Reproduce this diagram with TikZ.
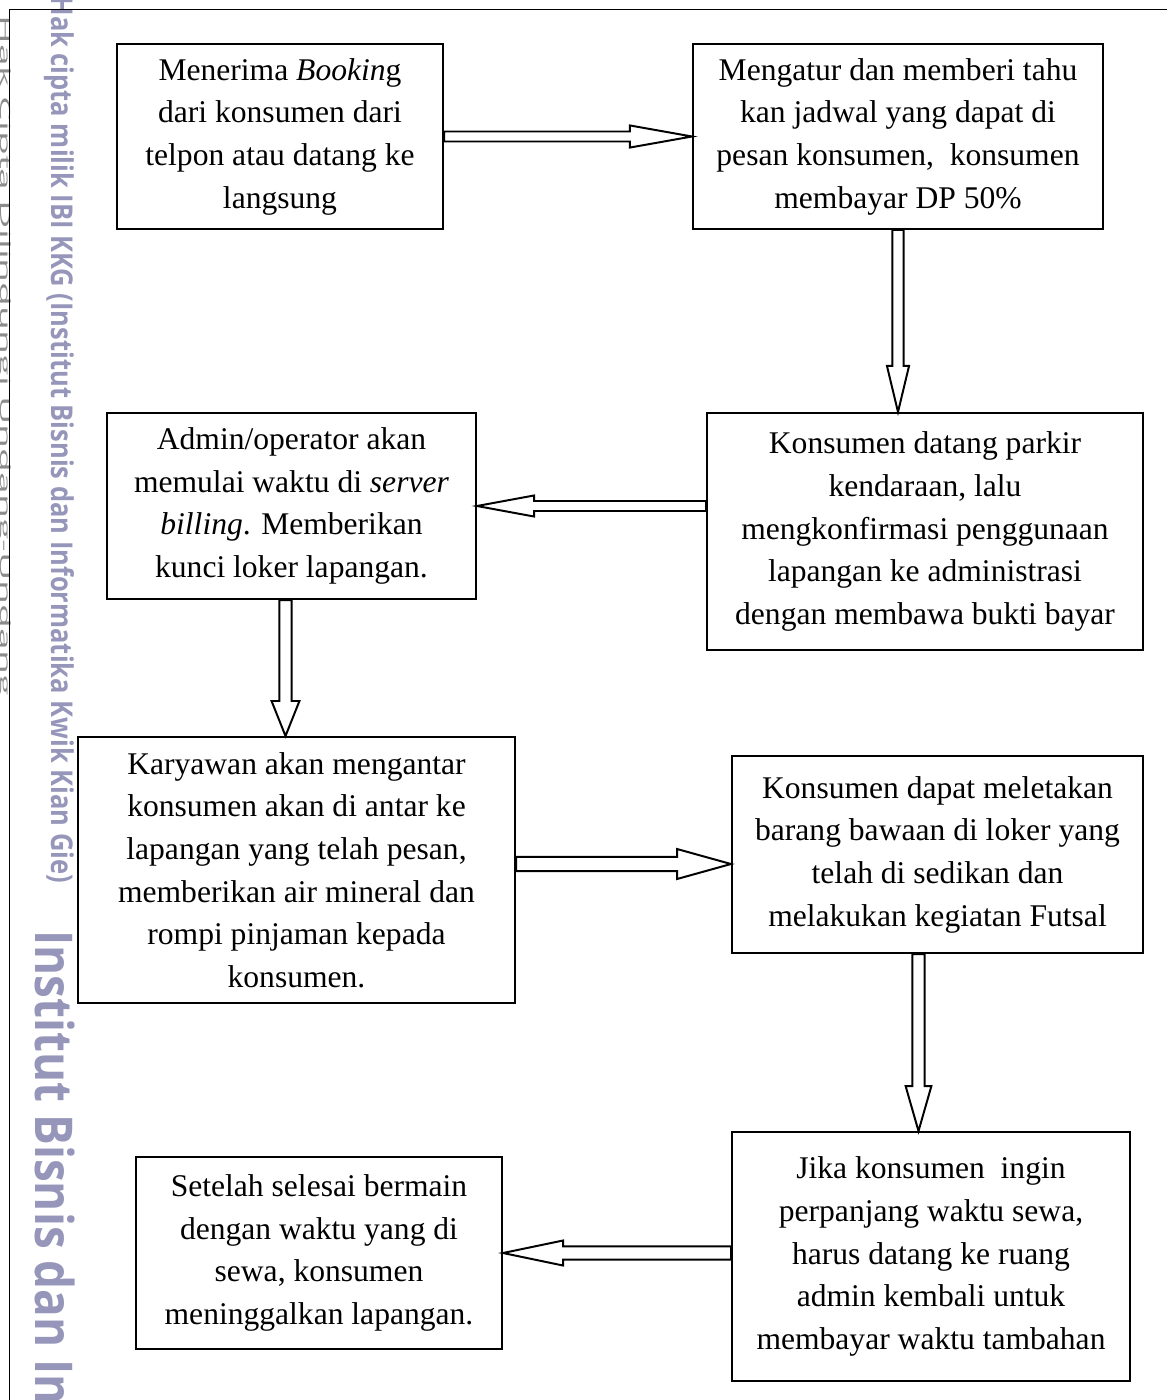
\documentclass[tikz,border=0pt]{standalone}
\usepackage{fontspec}
\setmainfont{Liberation Serif}
\newfontfamily\wmfont{Open Sans}
\usetikzlibrary{calc}

\definecolor{wmlilac}{RGB}{150,150,186}
\definecolor{wmgrey}{RGB}{140,140,140}

\tikzset{
  procbox/.style={draw, line width=0.75pt, inner sep=2pt, align=center,
    font=\fontsize{12}{16.2}\selectfont},
  % hollow block arrow: #1 half shaft, #2 half head, #3 head length
  blockarrow/.style n args={3}{line width=0.75pt, to path={
      ($(\tikztotarget)!#3!(\tikztostart)$) coordinate (hb)
      ($(\tikztostart)!#1!90:(\tikztotarget)$)
      -- ($(hb)!#1!90:(\tikztotarget)$)
      -- ($(hb)!#2!90:(\tikztotarget)$)
      -- (\tikztotarget)
      -- ($(hb)!#2!-90:(\tikztotarget)$)
      -- ($(hb)!#1!-90:(\tikztotarget)$)
      -- ($(\tikztostart)!#1!-90:(\tikztotarget)$)
      -- cycle}},
  watermark/.style={rotate=-90, anchor=base west, inner sep=0pt}
}

\begin{document}
\begin{tikzpicture}[x=0.38pt, y=-0.38pt]

  % Fix the page to the size of the scanned figure
  \useasboundingbox (0,0) rectangle (1167,1400);

  % Watermark along the left margin
  \node[watermark, text=wmgrey, font=\wmfont\fontsize{5.3}{6}\selectfont]
    (wmhak) at (0,15) {\scalebox{2.8}[1]{Hak Cipta Dilindungi Undang-Undang}};
  \node[watermark, text=wmlilac, font=\wmfont\bfseries\fontsize{11.4}{12}\selectfont]
    (wmcipta) at (51,-4) {\scalebox{0.85}[1]{Hak cipta milik IBI KKG (Institut Bisnis dan Informatika Kwik Kian Gie)}};
  \node[watermark, text=wmlilac, font=\wmfont\bfseries\fontsize{19.8}{22}\selectfont]
    (wminstitut) at (35,930) {\scalebox{0.88}[1]{Institut Bisnis dan In}};

  % Frame of the page (only top and left edges show)
  \draw[line width=0.75pt] (1167,9.5) -- (9.5,9.5) -- (9.5,1400);

  % First row
  \node[procbox, minimum width=123.9pt, minimum height=70.3pt] (booking) at (280,136.5)
    {Menerima \textit{Bookin}g\\dari konsumen dari\\telpon atau datang ke\\langsung};
  \node[procbox, minimum width=155.8pt, minimum height=70.3pt] (jadwal) at (898,136.5)
    {Mengatur dan memberi tahu\\kan jadwal yang dapat di\\pesan konsumen,\ \ konsumen\\membayar DP 50\%};

  % Second row
  \node[procbox, minimum width=165.7pt, minimum height=90.1pt] (datang) at (925,531.5)
    {Konsumen datang parkir\\kendaraan, lalu\\mengkonfirmasi penggunaan\\lapangan ke administrasi\\dengan membawa bukti bayar};
  \node[procbox, minimum width=140.2pt, minimum height=70.7pt] (billing) at (291.5,506)
    {Admin/operator akan\\memulai waktu di \textit{server}\\\textit{billing}. Memberikan\\kunci loker lapangan.};

  % Third row
  \node[procbox, minimum width=166.1pt, minimum height=101.1pt] (antar) at (296.5,870)
    {Karyawan akan mengantar\\konsumen akan di antar ke\\lapangan yang telah pesan,\\memberikan air mineral dan\\rompi pinjaman kepada\\konsumen.};
  \node[procbox, minimum width=156.2pt, minimum height=74.9pt] (loker) at (937.5,854.5)
    {Konsumen dapat meletakan\\barang bawaan di loker yang\\telah di sedikan dan\\melakukan kegiatan Futsal};

  % Fourth row
  \node[procbox, minimum width=151.2pt, minimum height=94.6pt] (perpanjang) at (931,1256.5)
    {Jika konsumen\ \ ingin\\perpanjang waktu sewa,\\harus datang ke ruang\\admin kembali untuk\\membayar waktu tambahan};
  \node[procbox, minimum width=139.1pt, minimum height=73pt] (selesai) at (319,1253)
    {Setelah selesai bermain\\dengan waktu yang di\\sewa, konsumen\\meninggalkan lapangan.};

  % Arrow start points that sit off the box centres
  \coordinate (a4) at ($(billing.south)+(-6,0)$);
  \coordinate (a5) at ($(antar.east)+(0,-6)$);
  \coordinate (a6) at ($(loker.south)+(-19,0)$);

  % Block arrows between the steps
  \draw[blockarrow={1.9pt}{4.2pt}{23.6pt}] (booking.east) to (booking.east -| jadwal.west);
  \draw[blockarrow={2.1pt}{4.2pt}{17.5pt}] (jadwal.south) to (jadwal.south |- datang.north);
  \draw[blockarrow={1.9pt}{4pt}{21.7pt}] (datang.west |- billing.east) to (billing.east);
  \draw[blockarrow={2.3pt}{5.3pt}{13.3pt}] (a4) to (a4 |- antar.north);
  \draw[blockarrow={2.7pt}{5.7pt}{20.5pt}] (a5) to (a5 -| loker.west);
  \draw[blockarrow={2.3pt}{4.9pt}{17.1pt}] (a6) to (a6 |- perpanjang.north);
  \draw[blockarrow={2.5pt}{4.75pt}{22.8pt}] (perpanjang.west |- selesai.east) to (selesai.east);

\end{tikzpicture}
\end{document}
